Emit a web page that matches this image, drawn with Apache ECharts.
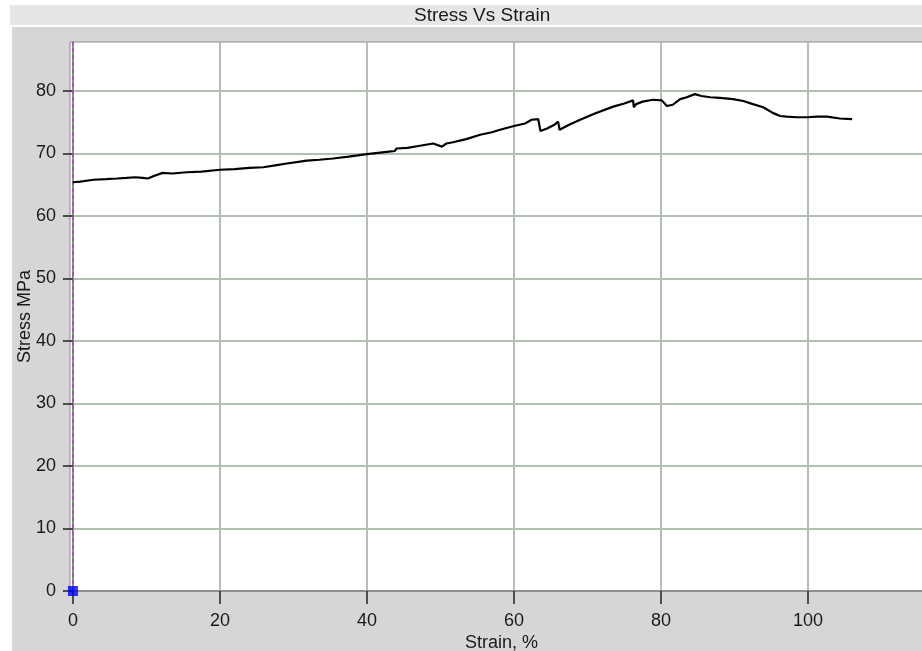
<!DOCTYPE html>
<html>
<head>
<meta charset="utf-8">
<script src="https://cdn.jsdelivr.net/npm/echarts@6/dist/echarts.min.js"></script>
<style>
  html, body { margin: 0; padding: 0; background: #ffffff; }
  #band { position: absolute; left: 10px; top: 5px; width: 912px; height: 20px; background: #e6e6e6; }
  #panel { position: absolute; left: 12px; top: 27px; width: 910px; height: 624px; background: #d6d6d6; }
  #chart { position: absolute; left: 0; top: 0; width: 922px; height: 651px; }
</style>
</head>
<body>
<div id="band"></div>
<div id="panel"></div>
<div id="chart"></div>
<script>
// ---- data ----
const strain = [0, 1, 2.8, 4.5, 6, 7.3, 8.5, 9.5, 10.2, 11,
  12.2, 13.5, 15.5, 17.5, 20, 22, 24, 25.9, 27.5, 29.1,
  30.9, 31.8, 33.5, 35.4, 37.5, 40, 41.5, 43, 43.8, 44,
  45.5, 47, 49, 50.2, 50.8, 51.7, 53.5, 55.4, 57, 58.1,
  60, 61.5, 62.4, 63.3, 63.6, 64.5, 65.5, 66.0, 66.2, 67.5,
  69.0, 71, 73.5, 75, 76.2, 76.3, 76.6, 77.5, 78.9, 80.1,
  80.8, 81.6, 82.6, 83.5, 84.6, 85.5, 86.7, 88, 89.8, 91.2,
  92.5, 93.9, 95.2, 96.2, 97.1, 98.5, 99.9, 101.2, 102.6, 104.3,
  106.0];
const stress = [65.4, 65.5, 65.8, 65.9, 66.0, 66.1, 66.2, 66.1, 66.0, 66.4,
  66.9, 66.8, 67.0, 67.1, 67.4, 67.5, 67.7, 67.8, 68.1, 68.4,
  68.7, 68.85, 69.0, 69.2, 69.5, 69.9, 70.1, 70.3, 70.4, 70.8,
  70.9, 71.2, 71.6, 71.1, 71.6, 71.8, 72.3, 73.0, 73.4, 73.8,
  74.4, 74.8, 75.4, 75.5, 73.6, 74.0, 74.6, 75.1, 73.8, 74.6,
  75.4, 76.4, 77.5, 78.0, 78.5, 77.4, 77.9, 78.3, 78.6, 78.5,
  77.6, 77.8, 78.7, 79.0, 79.5, 79.2, 79.0, 78.9, 78.7, 78.4,
  77.9, 77.4, 76.5, 76.0, 75.9, 75.8, 75.8, 75.9, 75.9, 75.6,
  75.5];
const markerPoint = [[0, 0]];
const zeroStrain = 0;
const xTicks = [0, 20, 40, 60, 80, 100];
const yTicks = [0, 10, 20, 30, 40, 50, 60, 70, 80];
const titleText = 'Stress Vs Strain';
const xName = 'Strain, %';
const yName = 'Stress MPa';

const FONT = 'Liberation Sans, Arial, sans-serif';
const chart = echarts.init(document.getElementById('chart'), null, { renderer: 'canvas' });

chart.setOption({
  backgroundColor: 'transparent',
  animation: false,
  title: {
    text: titleText,
    left: 414,
    top: 6,
    padding: 0,
    textStyle: { fontFamily: FONT, fontSize: 19, fontWeight: 'normal', color: '#1a1a1a' }
  },
  grid: {
    left: 70, right: -11, top: 42, bottom: 60,
    outerBoundsMode: 'none',
    containLabel: false,
    show: true, backgroundColor: '#ffffff', borderColor: '#8a8a8a', borderWidth: 1
  },
  xAxis: {
    type: 'value',
    min: -0.4,
    max: 117,
    name: xName,
    nameLocation: 'middle',
    nameGap: 43,
    nameMoveOverlap: false,
    nameTextStyle: { fontFamily: FONT, fontSize: 18, color: '#1a1a1a' },
    axisLine: { show: true, lineStyle: { color: '#8f8f8f', width: 2 } },
    axisTick: { show: true, customValues: xTicks, length: 13, lineStyle: { color: '#222', width: 1.5 } },
    axisLabel: { customValues: xTicks, margin: 21, fontFamily: FONT, fontSize: 18, color: '#1a1a1a' },
    splitLine: { show: true, lineStyle: { color: '#b3bfb3', width: 2 } }
  },
  yAxis: {
    type: 'value',
    min: 0,
    max: 87.84,
    name: yName,
    nameLocation: 'middle',
    nameGap: 36,
    nameMoveOverlap: false,
    nameTextStyle: { fontFamily: FONT, fontSize: 18, color: '#1a1a1a' },
    axisLine: { show: true, lineStyle: { color: '#8f8f8f', width: 2 } },
    axisTick: { show: true, customValues: yTicks, length: 10, lineStyle: { color: '#222', width: 1.5 } },
    axisLabel: { customValues: yTicks, margin: 14, fontFamily: FONT, fontSize: 18, color: '#1a1a1a' },
    splitLine: { show: true, lineStyle: { color: '#b3bfb3', width: 2 } }
  },
  series: [
    {
      type: 'line',
      data: strain.map((s, i) => [s, stress[i]]),
      showSymbol: false,
      symbol: 'none',
      lineStyle: { color: '#000000', width: 2.2 },
      z: 5
    },
    {
      type: 'scatter',
      data: markerPoint,
      symbol: 'rect',
      symbolSize: 10,
      itemStyle: { color: '#0000ff' },
      z: 6,
      markLine: {
        silent: true,
        symbol: 'none',
        label: { show: false },
        lineStyle: { color: '#b040c0', type: [4, 3], width: 1.5 },
        data: [{ xAxis: zeroStrain }]
      }
    }
  ]
});
</script>
</body>
</html>
